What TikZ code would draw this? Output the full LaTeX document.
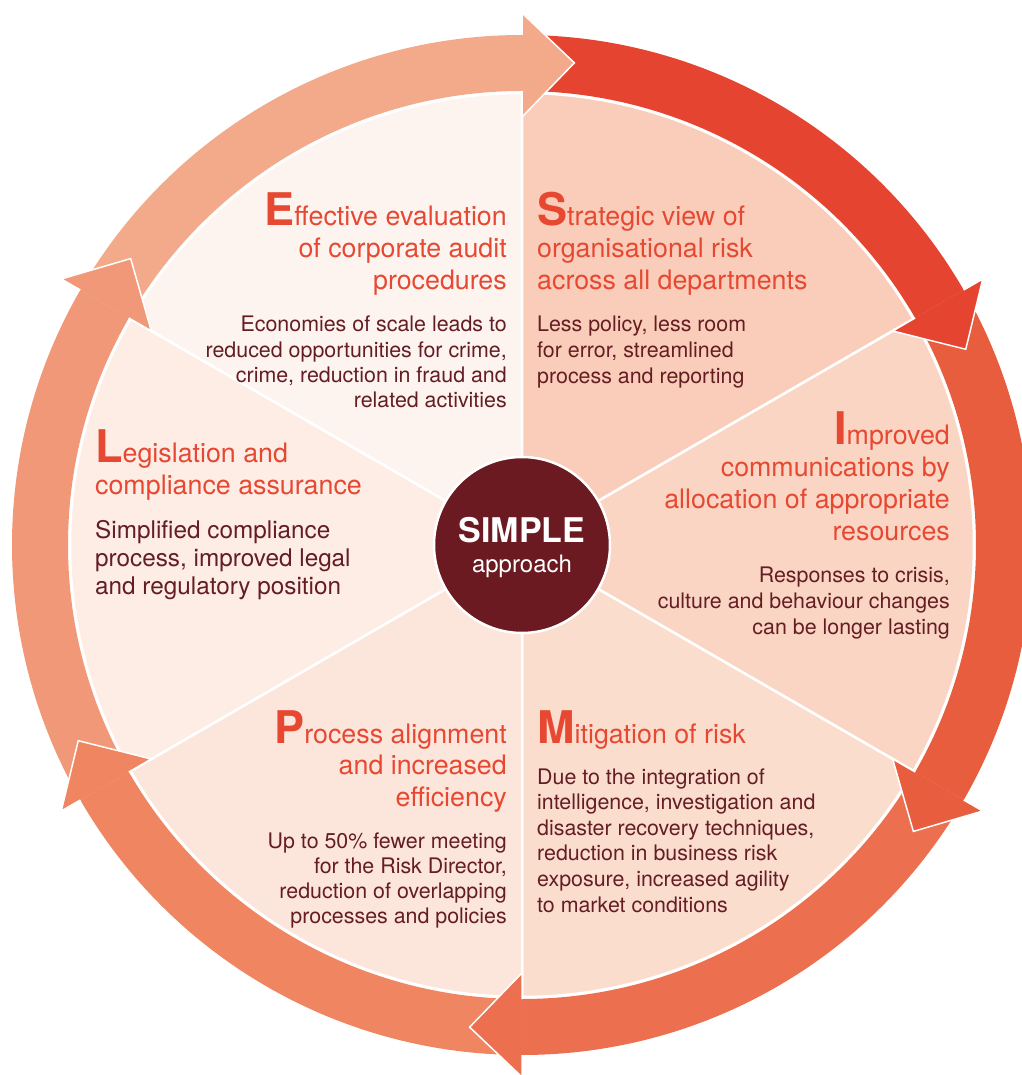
\documentclass[tikz,border=0pt]{standalone}
\usepackage{fontspec}
\setmainfont{TeX Gyre Heros}
\definecolor{pieA}{HTML}{FDF4F0}
\definecolor{pieB}{HTML}{F9CDB9}
\definecolor{pieC}{HTML}{FAD5C3}
\definecolor{pieD}{HTML}{FBDDCE}
\definecolor{pieE}{HTML}{FCE5DA}
\definecolor{pieF}{HTML}{FDEDE5}
\definecolor{rA}{HTML}{F3AA8A}
\definecolor{rB}{HTML}{E54530}
\definecolor{rC}{HTML}{E85D3E}
\definecolor{rD}{HTML}{EC704F}
\definecolor{rE}{HTML}{EF8561}
\definecolor{rF}{HTML}{F19878}
\definecolor{hd}{HTML}{E64832}
\definecolor{bd}{HTML}{651D24}
\definecolor{hub}{HTML}{6B1A22}
\newcommand\BigLetter[1]{{\fontsize{45}{45}\selectfont\bfseries #1}}
\newcommand\TextBlock[7]{%
  \foreach \t [count=\i] in {#7}
    \node[#2, anchor=#3] (#1\i) at (#4, {#5-(\i-1)*#6}) {\t};}
\begin{document}
\begin{tikzpicture}[x=1pt,y=1pt,
  head/.style={font=\fontsize{26.8}{32}\selectfont, text=hd, inner sep=0pt},
  body/.style={font=\fontsize{21.4}{25.7}\selectfont, text=bd, inner sep=0pt},
  bodyL/.style={font=\fontsize{24.3}{28}\selectfont, text=bd, inner sep=0pt},
  sector/.style={draw=white, line width=2.5pt, line join=round},
  arrowhead/.style={draw=white, line width=1.5pt, line join=miter}]
\useasboundingbox (-522,-530) rectangle (499,545);
% pie sectors
\foreach \a/\c in {90/pieA, 30/pieB, -30/pieC, -90/pieD, -150/pieE, 150/pieF}
  \filldraw[sector, fill=\c] (0,0) -- ({\a}:452) arc[start angle=\a, end angle={\a+60}, radius=452] -- cycle;
% ring bodies
\foreach \e/\c in {90/rA, 30/rB, -30/rC, -90/rD, -150/rE, -210/rF}
  \fill[\c] ({\e+60}:510) arc[start angle={\e+60}, end angle=\e, radius=510]
     -- ({\e}:454) arc[start angle=\e, end angle={\e+60}, radius=454] -- cycle;
% arrow heads
\foreach \e/\c in {90/rA, 30/rB, -30/rC, -90/rD, -150/rE, -210/rF}
  \filldraw[arrowhead, fill=\c] ({\e}:454) -- ({\e}:428) -- ({\e-6.2}:485) -- ({\e}:532) -- ({\e}:510);
% hub
\node[circle, fill=hub, draw=white, line width=2.5pt, minimum size=176pt, inner sep=0pt] (hubc) at (0,0) {};
\node[anchor=base, text=white, font=\fontsize{34}{34}\selectfont\bfseries, inner sep=0pt] (simple) at (0,2) {SIMPLE};
\node[anchor=base, text=white, font=\fontsize{24}{24}\selectfont, inner sep=0pt] (approach) at (0,-28) {approach};
% S block
\TextBlock{sh}{head}{base west}{15}{319}{32}{{\BigLetter{S}trategic view of},{organisational risk},{across all departments}}
\TextBlock{sb}{body}{base west}{15}{213}{25.7}{{Less policy, less room},{for error, streamlined},{process and reporting}}
% E block
\TextBlock{eh}{head}{base east}{-15}{319}{32}{{\BigLetter{E}ffective evaluation},{of corporate audit},{procedures}}
\TextBlock{eb}{body}{base east}{-15}{213}{25.2}{{Economies of scale leads to},{reduced opportunities for crime,},{crime, reduction in fraud and},{related activities}}
% I block
\TextBlock{ih}{head}{base east}{428}{100}{32}{{\BigLetter{I}mproved},{communications by},{allocation of appropriate},{resources}}
\TextBlock{ib}{body}{base east}{428}{-38}{25.7}{{Responses to crisis,},{culture and behaviour changes},{can be longer lasting}}
% L block
\TextBlock{lh}{head}{base west}{-427}{82}{32}{{\BigLetter{L}egislation and},{compliance assurance}}
\TextBlock{lb}{bodyL}{base west}{-427}{6}{27.8}{{Simplified compliance},{process, improved legal},{and regulatory position}}
% M block
\TextBlock{mh}{head}{base west}{15}{-198}{32}{{\BigLetter{M}itigation of risk}}
\TextBlock{mb}{body}{base west}{15}{-239}{25.6}{{Due to the integration of},{intelligence, investigation and},{disaster recovery techniques,},{reduction in business risk},{exposure, increased agility},{to market conditions}}
% P block
\TextBlock{ph}{head}{base east}{-15}{-198}{31.5}{{\BigLetter{P}rocess alignment},{and increased},{efficiency}}
\TextBlock{pb}{body}{base east}{-15}{-303}{25.1}{{Up to 50\% fewer meeting},{for the Risk Director,},{reduction of overlapping},{processes and policies}}
\end{tikzpicture}
\end{document}
